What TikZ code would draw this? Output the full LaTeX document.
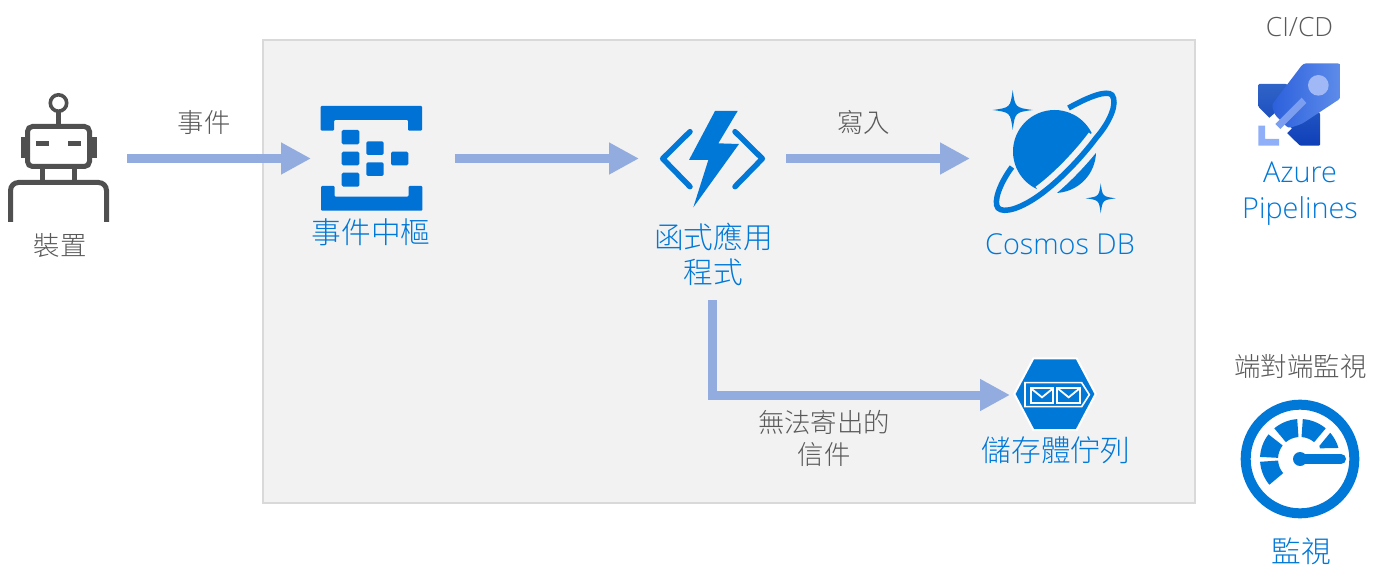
\documentclass[tikz,border=0pt]{standalone}
\usepackage{fontspec}
\setmainfont{Open Sans Light}
\newfontfamily\cjk{Noto Sans CJK TC Light}
\usetikzlibrary{arrows.meta,calc}
\definecolor{azblue}{HTML}{0078D7}
\definecolor{hubblue}{HTML}{0072D6}
\definecolor{arrowblue}{HTML}{92ACDF}
\definecolor{panelbg}{HTML}{F2F2F2}
\definecolor{panelline}{HTML}{D9D9D9}
\definecolor{inkgray}{HTML}{595959}
\definecolor{robotgray}{HTML}{505050}
\definecolor{wingtop}{HTML}{3064C8}
\definecolor{wingbot}{HTML}{0F3FB8}
\definecolor{bodylow}{HTML}{2C60DC}
\definecolor{bodyhigh}{HTML}{5E8CEA}
\definecolor{rocketdot}{HTML}{A0B8F5}
\definecolor{rocketbar}{HTML}{7C9EF0}
\definecolor{rocketel}{HTML}{8FB0F8}
\newcommand{\gaugeseg}[2]{\fill[azblue] (#1:120) arc[start angle=#1,end angle=#2,radius=120] -- (#2:66) arc[start angle=#2,end angle=#1,radius=66] -- cycle;}
\newcommand{\sparkle}[3]{\fill[azblue,shift={(#1,#2)},scale=#3] (0,-1) .. controls (0.12,-0.12) .. (1,0) .. controls (0.12,0.12) .. (0,1) .. controls (-0.12,0.12) .. (-1,0) .. controls (-0.12,-0.12) .. cycle;}
\tikzset{
  anchorbox/.style={inner sep=0pt,outer sep=0pt,minimum width=#1},
  flow/.style={draw=arrowblue,line width=9pt,-{Triangle[length=30pt,width=30pt]}},
  graylabel/.style={inner sep=0pt,text=inkgray,font=\cjk\fontsize{26.4}{32}\selectfont,align=center},
  bluelabel/.style={inner sep=0pt,text=azblue,font=\cjk\fontsize{29.7}{35}\selectfont,align=center},
  latinblue/.style={inner sep=0pt,text=azblue,font=\fontsize{28.8}{36}\selectfont,align=center},
  latingray/.style={inner sep=0pt,text=inkgray,font=\fontsize{26.5}{30}\selectfont,align=center},
}
\begin{document}
\begin{tikzpicture}[x=1pt,y=-1pt]
\useasboundingbox (0,0) rectangle (1389,585);
\fill[white] (0,0) rectangle (1389,585);
\draw[draw=panelline,fill=panelbg,line width=2pt] (263,40) rectangle (1195,503);

% layout anchors
\node[anchorbox=136,minimum height=120] (device) at (59,158.5) {};
\node[anchorbox=144,minimum height=110] (hub) at (383,158.5) {};
\node[anchorbox=147,minimum height=283] (fn) at (712.5,158.5) {};
\node[anchorbox=170,minimum height=120] (cosmos) at (1055,158.5) {};
\node[anchorbox=90,minimum height=80] (queue) at (1055,395) {};

% connectors
\draw[flow] (device.east) -- (hub.west);
\draw[flow] (hub.east) -- (fn.west);
\draw[flow] (fn.east) -- (cosmos.west);
\draw[flow] (fn.south) |- (queue.west);

% robot
\begin{scope}[robotgray]
\draw[line width=3.6pt] (58.5,103) circle[radius=8.2];
\draw[line width=4.5pt] (58.5,112) -- (58.5,125);
\draw[line width=5pt,rounded corners=5pt] (27.5,126.5) rectangle (89.5,166.5);
\fill (20.5,137) rectangle (25,158);
\fill (92,137) rectangle (96.5,158);
\fill (36,141) rectangle (49,146);
\fill (68,141) rectangle (81,146);
\draw[line width=4.5pt] (42.5,168) -- (42.5,182);
\draw[line width=4.5pt] (74.5,168) -- (74.5,182);
\draw[line width=5pt,rounded corners=8pt] (10.5,222) -- (10.5,182.5) -- (106.5,182.5) -- (106.5,222);
\end{scope}

% event hub icon
\begin{scope}[hubblue]
\fill[rounded corners=1pt] (320.7,106) -- (422,106) -- (422,130.7) -- (408,130.7) -- (408,120) -- (334,120) -- (334,130.7) -- (320.7,130.7) -- cycle;
\fill[rounded corners=1pt] (321,186) -- (334.5,186) -- (334.5,196.7) -- (408.5,196.7) -- (408.5,186) -- (422.3,186) -- (422.3,210.7) -- (321,210.7) -- cycle;
\fill[rounded corners=1.5pt] (341.7,130) rectangle (359.3,144.3);
\fill[rounded corners=1.5pt] (341.7,151.7) rectangle (359.3,165.3);
\fill[rounded corners=1.5pt] (341.7,172.7) rectangle (359.3,186.7);
\fill[rounded corners=1.5pt] (366.3,141.3) rectangle (383.7,155);
\fill[rounded corners=1.5pt] (366.3,162.3) rectangle (383.7,176);
\fill[rounded corners=1.5pt] (391,151.7) rectangle (408.3,165.3);
\end{scope}

% function icon
\begin{scope}[shift={(640,80)},scale=1/3]
\fill[azblue] (225,93) -- (293,93) -- (235,190) -- (297,192) -- (160,382) -- (205,240) -- (147,240) -- cycle;
\draw[azblue,line width=5.5pt,line cap=round,line join=round] (150,155) -- (68,236) -- (150,320);
\draw[azblue,line width=5.5pt,line cap=round,line join=round] (285,155) -- (367,236) -- (285,320);
\end{scope}

% cosmos icon
\fill[azblue] (1054.5,151.5) circle[radius=41.5];
\def\ringpath{(1068.5,108) .. controls (1090,96) and (1107,90) .. (1112,95) .. controls (1118,103) and (1110,122) .. (1096,138) .. controls (1082,157) and (1060,180) .. (1041,194) .. controls (1022,208) and (1004,214) .. (998,208) .. controls (993,202) and (1000,183) .. (1012,167)}
\draw[panelbg,line width=18pt] (1096,138) .. controls (1082,157) and (1060,180) .. (1041,194);
\draw[panelbg,line width=13pt] \ringpath;
\draw[azblue,line width=5.5pt] \ringpath;
\sparkle{1012.7}{110}{20}
\sparkle{1100.7}{198.3}{15}

% queue icon
\begin{scope}[shift={(690,340)},scale=1/3]
\draw[white,fill=azblue,line width=2pt] (973,162) -- (1030,55) -- (1160,55) -- (1217,162) -- (1160,270) -- (1030,270) -- cycle;
\draw[white,line width=1.6pt] (1005,128) -- (1175,128) -- (1198,164) -- (1175,200) -- (1005,200) -- cycle;
\draw[white,line width=2.2pt] (1022,143) rectangle (1090,190);
\draw[white,line width=2.2pt] (1102,143) rectangle (1170,190);
\draw[white,line width=1.8pt] (1024,146) -- (1056,172) -- (1088,146);
\draw[white,line width=1.8pt] (1104,146) -- (1136,172) -- (1168,146);
\end{scope}

% pipelines icon
\begin{scope}[shift={(1220,0)},scale=1/3]
\shade[top color=wingtop,bottom color=wingbot,rounded corners=1pt] (115,252) -- (200,252) -- (300,340) -- (300,437) -- (240,437) -- (197,395) -- (150,355) -- (115,320) -- cycle;
\fill[white] (143,358) -- (170,335) -- (215,385) -- (195,405) -- cycle;
\shade[shading angle=45,left color=bodylow,right color=bodyhigh,rounded corners=3pt] (155,315) -- (250,190) -- (362,190) -- (362,295) -- (245,372) -- (205,385) -- (165,345) -- cycle;
\fill[rocketdot] (295,256) circle[radius=31];
\fill[rocketbar] (166,372) -- (245,293) -- (259,309) -- (181,387) -- cycle;
\fill[rocketel] (115,377) -- (135,377) -- (135,417) -- (177,417) -- (177,437) -- (115,437) -- cycle;
\end{scope}

% monitor icon
\begin{scope}[shift={(1300,459)},x=1pt,y=1pt,scale=1/3]
\draw[azblue,line width=10pt] (0,0) circle[radius=163];
\gaugeseg{184}{220}
\gaugeseg{142}{177}
\gaugeseg{94}{130}
\gaugeseg{50}{86}
\fill[azblue] (41:120) arc[start angle=41,end angle=16,radius=120] -- (60,32) -- (34:70) -- cycle;
\fill[azblue] (0,0) circle[radius=21];
\draw[azblue,line width=10pt,line cap=round] (0,0) -- (123,0);
\end{scope}

% labels
\node[graylabel] (lblevent) at (204,122) {事件};
\node[graylabel] (lbldevice) at (60,246) {裝置};
\node[bluelabel] (lblhub) at (371,232) {事件中樞};
\node[bluelabel] (lblfn) at (713.5,254.5) {函式應用\\程式};
\node[graylabel] (lblwrite) at (863.5,122) {寫入};
\node[latinblue] (lblcosmos) at (1060,244) {Cosmos DB};
\node[graylabel] (lbldead) at (824,438) {無法寄出的\\信件};
\node[bluelabel] (lblqueue) at (1056,450) {儲存體佇列};
\node[latingray] (lblcicd) at (1299.5,27) {CI/CD};
\node[latinblue] (lblazure) at (1300,194) {Azure\\Pipelines};
\node[graylabel] (lble2e) at (1300.5,367) {端對端監視};
\node[bluelabel] (lblmon) at (1301,551) {監視};
\end{tikzpicture}
\end{document}
